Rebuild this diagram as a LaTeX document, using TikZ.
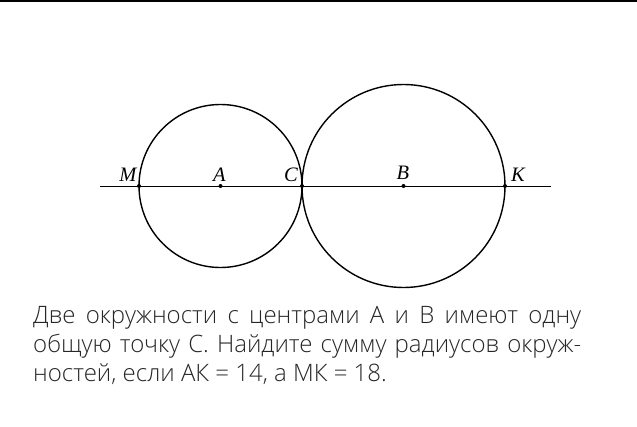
\documentclass[tikz,border=0pt]{standalone}
\usepackage{fontspec}
\newfontfamily\taskfont{Open Sans Light}
\newfontfamily\ptfont{Liberation Serif}
\tikzset{
  dot/.style={circle,fill=black,inner sep=0pt,minimum size=4pt},
  ptlabel/.style={anchor=base,inner sep=0pt,font=\ptfont\itshape\fontsize{20.5}{20.5}\selectfont},
  taskline/.style={anchor=base west,inner sep=0pt,text=black!85,font=\taskfont\fontsize{24}{29}\selectfont}
}
\newcommand{\fullline}[1]{\makebox[548pt][s]{#1}}
\begin{document}
\begin{tikzpicture}[x=1pt,y=-1pt]
  \useasboundingbox (0,0) rectangle (637,426);
  % Frame line
  \draw[line width=2pt] (0,1) -- (637,1);

  % Circles
  \draw[line width=1.4pt] (220.5,186) circle (81.5);
  \draw[line width=1.4pt] (403.5,186) circle (101.5);

  % Line through the centres
  \coordinate (west) at (100,186);
  \coordinate (east) at (551,186);
  \draw[line width=0.8pt] (west) -- (east);

  % Points
  \node[dot] (M) at (139,186) {};
  \node[dot] (A) at (220.5,186) {};
  \node[dot] (C) at (302,186) {};
  \node[dot] (B) at (403.5,186) {};
  \node[dot] (K) at (505,186) {};

  % Labels
  \node[ptlabel] (Mlab) at (128,181) {M};
  \node[ptlabel] (Alab) at (219.5,181) {A};
  \node[ptlabel] (Clab) at (291,181) {C};
  \node[ptlabel] (Blab) at (403,179) {B};
  \node[ptlabel] (Klab) at (518,181) {K};

  % Task text (justified)
  \node[taskline] (line1) at (33,323) {\fullline{Две окружности с центрами А и В имеют одну}};
  \node[taskline] (line2) at (33,352) {\fullline{общую точку С. Найдите сумму радиусов окруж-}};
  \node[taskline] (line3) at (33,381) {ностей, если АК = 14, а МК = 18.};
\end{tikzpicture}
\end{document}
